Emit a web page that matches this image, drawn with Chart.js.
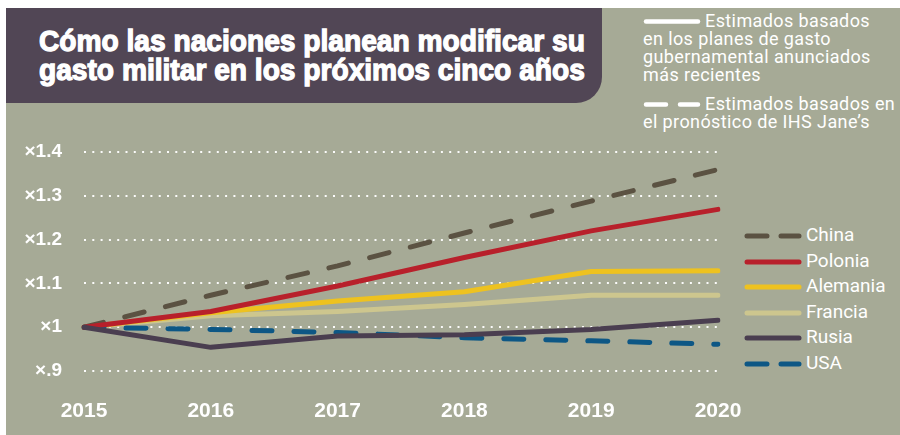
<!DOCTYPE html>
<html lang="es">
<head>
<meta charset="UTF-8">
<title>Gasto militar</title>
<script src="https://cdn.jsdelivr.net/npm/chart.js"></script>
<style>
    body {
        margin: 0;
        width: 900px;
        height: 435px;
        background: #ffffff;
        position: relative;
        overflow: hidden;
        font-family: Roboto, sans-serif;
    }
    .panel {
        position: absolute;
        left: 6px;
        top: 8px;
        width: 894px;
        height: 427px;
        background: #a6aa96;
    }
    .title-box {
        position: absolute;
        left: 6px;
        top: 8px;
        width: 596px;
        height: 95px;
        background: #514655;
        border-bottom-right-radius: 26px;
    }
    .title {
        position: absolute;
        left: 39px;
        top: 26px;
        color: #fff;
        font-family: "Liberation Sans Narrow", sans-serif;
        font-weight: bold;
        font-size: 30px;
        line-height: 29px;
        white-space: nowrap;
        -webkit-text-stroke: 1.3px #fff;
        transform-origin: 0 0;
    }
    .note {
        position: absolute;
        color: #fff;
        font-size: 18px;
        line-height: 18px;
        letter-spacing: 0.4px;
        white-space: nowrap;
    }
    .note svg {
        position: absolute;
        left: -62px;
        top: 7px;
    }
    .legend {
        position: absolute;
        left: 744px;
        top: 222px;
        color: #fff;
        font-size: 19px;
    }
    .legend div {
        height: 25.6px;
        line-height: 25.6px;
        white-space: nowrap;
    }
    .legend svg {
        vertical-align: middle;
        margin-right: 4px;
    }
    #chart {
        position: absolute;
        left: 0;
        top: 0;
    }
</style>
</head>
<body>
<div class="panel"></div>
<div class="title-box"></div>
<div class="title" id="title">Cómo las naciones planean modificar su<br>gasto militar en los próximos cinco años</div>

<div class="note" style="left:705px; top:12px;"><svg width="58" height="5"><line x1="3" y1="2.5" x2="55" y2="2.5" stroke="#fff" stroke-width="4.5" stroke-linecap="round"/></svg>Estimados basados</div>
<div class="note" style="left:643px; top:30px;">en los planes de gasto</div>
<div class="note" style="left:643px; top:48px;">gubernamental anunciados</div>
<div class="note" style="left:643px; top:66px;">más recientes</div>
<div class="note" style="left:705px; top:95px;"><svg width="58" height="5"><line x1="3" y1="2.5" x2="55" y2="2.5" stroke="#fff" stroke-width="4.5" stroke-linecap="round" stroke-dasharray="20 14"/></svg>Estimados basados en</div>
<div class="note" style="left:643px; top:113px;">el pronóstico de IHS Jane’s</div>

<div class="legend" id="legend"></div>

<canvas id="chart" width="900" height="435"></canvas>

<script>
    const years = ['2015', '2016', '2017', '2018', '2019', '2020'];
    const china = [1, 1.073, 1.14, 1.215, 1.288, 1.36];
    const polonia = [1, 1.036, 1.094, 1.159, 1.22, 1.269];
    const alemania = [1, 1.033, 1.06, 1.081, 1.127, 1.129];
    const francia = [1, 1.026, 1.036, 1.052, 1.073, 1.073];
    const rusia = [1, 0.954, 0.98, 0.983, 0.995, 1.016];
    const usa = [1, 0.995, 0.988, 0.976, 0.969, 0.961];

    const series = [
        { label: 'China', data: china, color: '#5b5242', dashed: true, order: 3 },
        { label: 'Polonia', data: polonia, color: '#b8202b', dashed: false, order: 1 },
        { label: 'Alemania', data: alemania, color: '#eec21f', dashed: false, order: 4 },
        { label: 'Francia', data: francia, color: '#cdc68e', dashed: false, order: 5 },
        { label: 'Rusia', data: rusia, color: '#4a3e50', dashed: false, order: 0 },
        { label: 'USA', data: usa, color: '#0d5785', dashed: true, order: 2 }
    ];

    // squeeze the title to the width of the original
    const title = document.getElementById('title');
    title.style.transform = 'scaleX(' + (546 / title.offsetWidth) + ')';

    // legend on the right
    const legend = document.getElementById('legend');
    series.forEach(s => {
        const row = document.createElement('div');
        const dash = s.dashed ? ' stroke-dasharray="20 14"' : '';
        row.innerHTML = '<svg width="58" height="6"><line x1="3" y1="3" x2="55" y2="3" stroke="' + s.color +
            '" stroke-width="5" stroke-linecap="round"' + dash + '/></svg>' + s.label;
        legend.appendChild(row);
    });

    const ctx = document.getElementById('chart').getContext('2d');
    new Chart(ctx, {
        type: 'line',
        data: {
            labels: years,
            datasets: series.map(s => ({
                label: s.label,
                data: s.data,
                borderColor: s.color,
                borderWidth: 5,
                borderDash: s.dashed ? [20, 22] : [],
                borderCapStyle: 'round',
                borderJoinStyle: 'round',
                pointRadius: 0,
                tension: 0,
                order: s.order
            }))
        },
        options: {
            responsive: false,
            animation: false,
            layout: { padding: { left: 0, right: 182, top: 152, bottom: 0 } },
            plugins: { legend: { display: false }, tooltip: { enabled: false } },
            scales: {
                x: {
                    grid: { display: false },
                    border: { display: false },
                    ticks: {
                        color: '#fff',
                        padding: 20,
                        maxRotation: 0,
                        font: { family: 'Liberation Sans', weight: 'bold', size: 21 }
                    },
                    afterFit: scale => { scale.height = 64; }
                },
                y: {
                    min: 0.9,
                    max: 1.4,
                    grid: { color: 'rgba(255,255,255,0.95)', lineWidth: 2, drawTicks: false },
                    border: { display: false, dash: [2, 6.3] },
                    ticks: {
                        stepSize: 0.1,
                        color: '#fff',
                        padding: 22,
                        font: { family: 'Liberation Sans', weight: 'bold', size: 19 },
                        callback: v => {
                            const r = Math.round(v * 10) / 10;
                            if (r === 1) return '×1';
                            if (r < 1) return '×.9';
                            return '×' + r.toFixed(1);
                        }
                    },
                    afterFit: scale => { scale.width = 84; }
                }
            }
        }
    });
</script>
</body>
</html>
